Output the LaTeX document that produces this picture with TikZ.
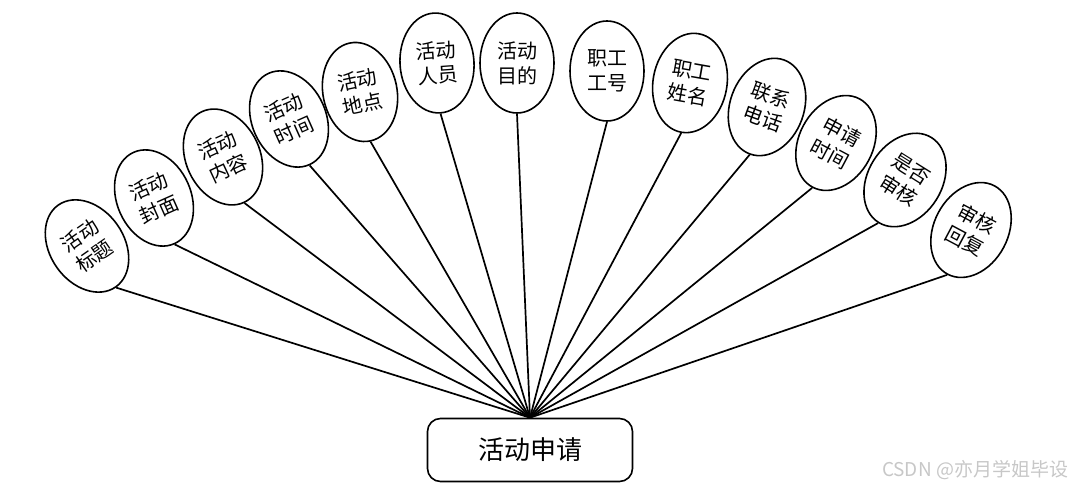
\documentclass[tikz,border=0pt]{standalone}
\usepackage{fontspec}
\setmainfont{Noto Sans CJK SC}
\usetikzlibrary{positioning,shapes.geometric}

\begin{document}
\begin{tikzpicture}[x=1pt,y=1pt,
  attr/.style={draw,ellipse,line width=1.6pt,minimum width=74pt,minimum height=100pt,inner sep=0pt,align=center,font=\fontsize{20}{25}\selectfont},
  entity/.style={draw,rounded corners=13pt,line width=1.6pt,minimum width=205pt,minimum height=63pt,font=\fontsize{26}{30}\selectfont},
  link/.style={line width=1.7pt}]
\useasboundingbox (0,0) rectangle (1083,489);
\node[entity] (app) at (530,39) {活动申请};
\node[attr,rotate=35] (title) at (87,243) {活动\\标题};
\node[attr,rotate=24] (cover) at (154,291) {活动\\封面};
\node[attr,rotate=25] (content) at (223,332) {活动\\内容};
\node[attr,rotate=24] (time) at (289,370) {活动\\时间};
\node[attr,rotate=12] (place) at (360,397) {活动\\地点};
\node[attr,rotate=4] (staff) at (437,426) {活动\\人员};
\node[attr] (goal) at (517,426) {活动\\目的};
\node[attr] (empno) at (607,418) {职工\\工号};
\node[attr,rotate=-10] (empname) at (690,406) {职工\\姓名};
\node[attr,rotate=-20] (phone) at (767,382) {联系\\电话};
\node[attr,rotate=-28] (applytime) at (836,346) {申请\\时间};
\node[attr,rotate=-32] (audit) at (905,309) {是否\\审核};
\node[attr,rotate=-28] (reply) at (971,259) {审核\\回复};
\node[text=black!22,font=\fontsize{19}{22}\selectfont] (mark) at (975,19) {CSDN @亦月学姐毕设};
\draw[link] (title.south) -- (app.north);
\draw[link] (cover.south) -- (app.north);
\draw[link] (content.south) -- (app.north);
\draw[link] (time.south) -- (app.north);
\draw[link] (place.south) -- (app.north);
\draw[link] (staff.south) -- (app.north);
\draw[link] (goal.south) -- (app.north);
\draw[link] (empno.south) -- (app.north);
\draw[link] (empname.south) -- (app.north);
\draw[link] (phone.south) -- (app.north);
\draw[link] (applytime.south) -- (app.north);
\draw[link] (audit.south) -- (app.north);
\draw[link] (reply.south) -- (app.north);
\end{tikzpicture}
\end{document}
